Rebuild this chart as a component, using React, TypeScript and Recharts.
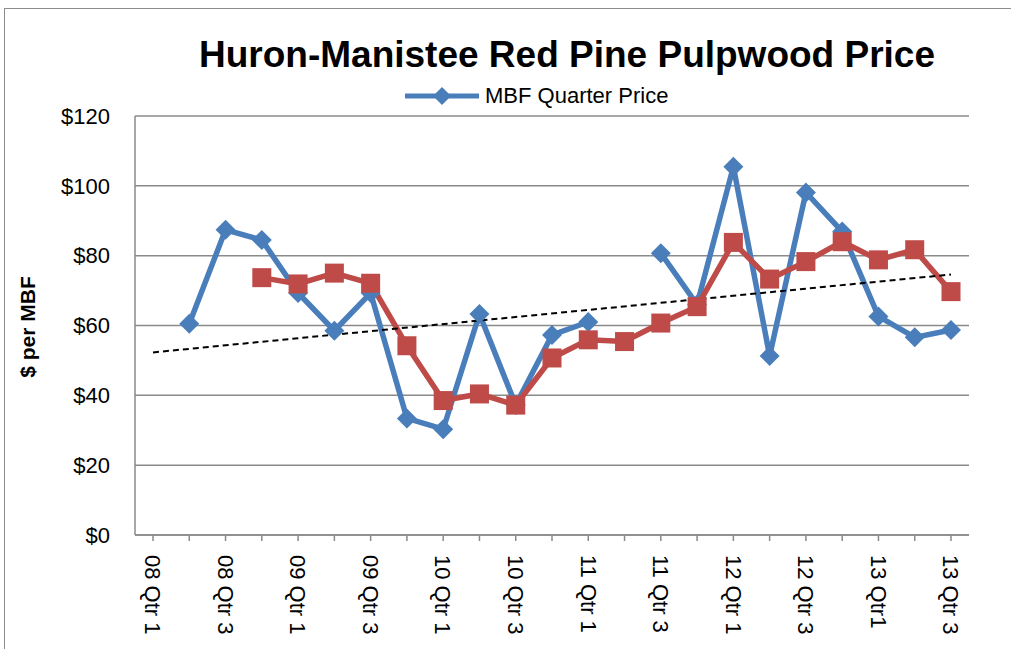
import { LineChart, Line, XAxis, YAxis, CartesianGrid, Legend, Customized } from 'recharts';

// Quarter categories, 2008 Q1 .. 2013 Q3
const quarters = [
  '08 Qtr 1', '08 Qtr 2', '08 Qtr 3', '08 Qtr 4',
  '09 Qtr 1', '09 Qtr 2', '09 Qtr 3', '09 Qtr 4',
  '10 Qtr 1', '10 Qtr 2', '10 Qtr 3', '10 Qtr 4',
  '11 Qtr 1', '11 Qtr 2', '11 Qtr 3', '11 Qtr 4',
  '12 Qtr 1', '12 Qtr 2', '12 Qtr 3', '12 Qtr 4',
  '13 Qtr1', '13 Qtr 2', '13 Qtr 3',
];

// MBF quarter price (blue diamonds)
const quarterPrice: (number | null)[] = [
  null, 60.5, 87.4, 84.5, 69.3, 58.5, 69.3, 33.4, 30.3, 63.3, 37.2, 57.3,
  61.0, null, 80.7, 66.0, 105.5, 51.3, 98.1, 86.9, 62.6, 56.6, 58.7,
];

// smoothed price (red squares)
const smoothedPrice: (number | null)[] = [
  null, null, null, 73.7, 71.9, 75.0, 72.1, 54.2, 38.5, 40.4, 37.2, 50.7,
  55.9, 55.4, 60.7, 65.4, 83.8, 73.3, 78.3, 84.0, 78.8, 81.7, 69.7,
];

// linear trend, endpoints only
const trendEnds: (number | null)[] = [
  52.3, null, null, null, null, null, null, null, null, null, null, null,
  null, null, null, null, null, null, null, null, null, null, 74.6,
];

const yTicks = [0, 20, 40, 60, 80, 100, 120];

const BLUE = '#4A7EBB';
const RED = '#BE4B48';
const GRID = '#8A8A8A';
const FONT = '"Liberation Sans", Arial, sans-serif';

const data = quarters.map((q, i) => ({
  quarter: q,
  price: quarterPrice[i],
  smooth: smoothedPrice[i],
  trend: trendEnds[i],
}));

function Diamond(props: any) {
  const { cx, cy, index } = props;
  if (cx == null || cy == null) return <g key={`d${index}`} />;
  const r = 10;
  return (
    <path
      key={`d${index}`}
      d={`M${cx},${cy - r}L${cx + r},${cy}L${cx},${cy + r}L${cx - r},${cy}Z`}
      fill={BLUE}
    />
  );
}

function Square(props: any) {
  const { cx, cy, index } = props;
  if (cx == null || cy == null) return <g key={`s${index}`} />;
  const h = 9.5;
  return <rect key={`s${index}`} x={cx - h} y={cy - h} width={h * 2} height={h * 2} fill={RED} />;
}

function QuarterTick(props: any) {
  const { x, y, payload, index } = props;
  if (index % 2 !== 0) return <g />;
  return (
    <text
      x={x}
      y={y + 12}
      dy="0.35em"
      transform={`rotate(90, ${x}, ${y + 12})`}
      textAnchor="start"
      fontFamily={FONT}
      fontSize={22}
      fill="#000"
    >
      {payload.value}
    </text>
  );
}

function renderLegend(props: any) {
  const entry = (props.payload || []).find((p: any) => p.dataKey === 'price');
  if (!entry) return null;
  return (
    <div style={{ display: 'flex', alignItems: 'center', marginLeft: 405 }}>
      <svg width={74} height={22}>
        <line x1={0} y1={11} x2={74} y2={11} stroke={BLUE} strokeWidth={5} />
        <path d="M37,2L46,11L37,20L28,11Z" fill={BLUE} />
      </svg>
      <span style={{ fontFamily: FONT, fontSize: 22, marginLeft: 6, color: '#000' }}>{entry.value}</span>
    </div>
  );
}

function Captions() {
  return (
    <g>
      <text x={567} y={67} textAnchor="middle" fontFamily={FONT} fontWeight="bold" fontSize={37} fill="#000">
        Huron-Manistee Red Pine Pulpwood Price
      </text>
      <text
        x={35}
        y={327}
        textAnchor="middle"
        transform="rotate(-90, 35, 327)"
        fontFamily={FONT}
        fontWeight="bold"
        fontSize={21}
        fill="#000"
      >
        $ per MBF
      </text>
    </g>
  );
}

export default function App() {
  return (
    <div style={{ position: 'absolute', left: 0, top: 0, width: 1011, height: 649, background: '#fff', overflow: 'hidden' }}>
      <div
        style={{
          position: 'absolute',
          left: 4,
          top: 8,
          width: 1100,
          height: 700,
          border: '1.5px solid #8C8C8C',
        }}
      />
      <div style={{ position: 'absolute', left: 0, top: 0 }}>
        <LineChart width={1011} height={649} data={data} margin={{ top: 116, right: 42, bottom: 0, left: 0 }}>
          <CartesianGrid vertical={false} stroke={GRID} strokeWidth={1.5} />
          <XAxis
            dataKey="quarter"
            interval={0}
            padding={{ left: 18, right: 18 }}
            tick={<QuarterTick />}
            tickSize={6}
            tickLine={{ stroke: GRID, strokeWidth: 1.5 }}
            axisLine={{ stroke: GRID, strokeWidth: 1.5 }}
            height={114}
          />
          <XAxis
            xAxisId="top"
            orientation="top"
            dataKey="quarter"
            height={0}
            tick={false}
            tickLine={false}
            axisLine={{ stroke: '#000', strokeWidth: 1.5 }}
          />
          <YAxis
            domain={[0, 120]}
            ticks={yTicks}
            tickFormatter={(v: number) => `$${v}`}
            tick={{ fontFamily: FONT, fontSize: 22, fill: '#000' }}
            tickLine={false}
            tickSize={6}
            tickMargin={19}
            axisLine={{ stroke: GRID, strokeWidth: 1.5 }}
            width={135}
          />
          <YAxis
            yAxisId="right"
            orientation="right"
            domain={[0, 120]}
            width={0}
            tick={false}
            tickLine={false}
            axisLine={{ stroke: '#000', strokeWidth: 1.5 }}
          />
          <Legend
            layout="horizontal"
            verticalAlign="middle"
            align="center"
            content={renderLegend}
            wrapperStyle={{ top: 83, left: 0, width: 1011 }}
          />
          <Line
            dataKey="price"
            name="MBF Quarter Price"
            stroke={BLUE}
            strokeWidth={5.5}
            dot={<Diamond />}
            activeDot={false}
            isAnimationActive={false}
          />
          <Line
            dataKey="smooth"
            name="Moving average"
            stroke={RED}
            strokeWidth={5.5}
            dot={<Square />}
            activeDot={false}
            legendType="none"
            isAnimationActive={false}
          />
          <Line
            dataKey="trend"
            name="Linear trend"
            stroke="#000"
            strokeWidth={2}
            strokeDasharray="6 4"
            dot={false}
            activeDot={false}
            connectNulls
            legendType="none"
            isAnimationActive={false}
          />
          <Customized component={Captions} />
        </LineChart>
      </div>
    </div>
  );
}
